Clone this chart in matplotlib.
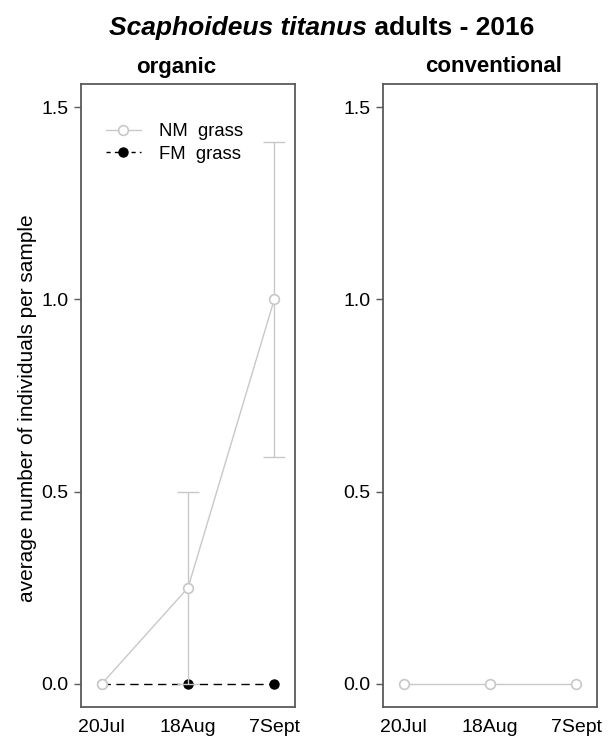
import matplotlib
matplotlib.use("Agg")
import matplotlib.pyplot as plt

plt.rcParams['font.family'] = ['Liberation Sans', 'DejaVu Sans']

dates = ["20Jul", "18Aug", "7Sept"]
x = [1, 2, 3]

# organic
org_nm_mean = [0.0, 0.25, 1.0]
org_nm_err = [0.0, 0.25, 0.41]
org_fm_mean = [0.0, 0.0, 0.0]
# conventional
conv_nm_mean = [0.0, 0.0, 0.0]

yticks = [0.0, 0.5, 1.0, 1.5]
panel_titles = ["organic", "conventional"]

W, H = 614, 738
fig = plt.figure(figsize=(W / 100, H / 100), dpi=100)

grey = "#c8c8c8"
frame = "#5a5a5a"
dash = (0, (6, 4))

def add_panel(left_px):
    ax = fig.add_axes([left_px / W, (H - 707) / H, 214 / W, (707 - 84) / H])
    ax.set_xlim(0.76, 3.24)
    ax.set_ylim(-0.06, 1.56)
    ax.set_yticks(yticks)
    ax.set_yticklabels([f"{v:.1f}" for v in yticks])
    ax.set_xticks(x)
    ax.set_xticklabels(dates)
    ax.tick_params(axis='y', length=5, width=1, color=frame, labelsize=14, pad=4)
    ax.tick_params(axis='x', length=0, labelsize=14, pad=9)
    for s in ax.spines.values():
        s.set_color(frame)
        s.set_linewidth(1.3)
    return ax

ax1 = add_panel(81)
ax2 = add_panel(383)

# organic panel
ax1.plot(x, org_fm_mean, color="black", linestyle=dash, linewidth=1,
         marker="o", markersize=6.5, markerfacecolor="black",
         markeredgecolor="black", zorder=2)
ex = [xi for xi, e in zip(x, org_nm_err) if e > 0]
ey = [m for m, e in zip(org_nm_mean, org_nm_err) if e > 0]
ee = [e for e in org_nm_err if e > 0]
ax1.errorbar(ex, ey, yerr=ee, fmt="none", ecolor=grey, elinewidth=1,
             capsize=8, capthick=1, zorder=2.5)
ax1.plot(x, org_nm_mean, color=grey, linewidth=1, marker="o", markersize=7,
         markerfacecolor="white", markeredgecolor=grey,
         markeredgewidth=1.2, zorder=3)

# legend
h_nm, = ax1.plot([], [], color=grey, linewidth=1, marker="o", markersize=7,
                 markerfacecolor="white", markeredgecolor=grey, markeredgewidth=1.2)
h_fm, = ax1.plot([], [], color="black", linestyle=(0, (3, 3)), linewidth=1,
                 marker="o", markersize=6.5, markerfacecolor="black")
ax1.legend([h_nm, h_fm], ["NM  grass", "FM  grass"], loc="upper left",
           frameon=False, fontsize=13.3, handlelength=1.9, handletextpad=1.0,
           labelspacing=0.3, bbox_to_anchor=(0.08, 0.949), borderaxespad=0.0)

# conventional panel
ax2.plot(x, conv_nm_mean, color=grey, linewidth=1, marker="o", markersize=7,
         markerfacecolor="white", markeredgecolor=grey, markeredgewidth=1.2)

fig.text(28 / W, 1 - 408 / H, "average number of individuals per sample",
         rotation=90, ha="center", va="center", fontsize=15)

fig.text(176 / W, 1 - 67 / H, panel_titles[0], ha="center", va="center",
         fontsize=16, fontweight="bold")
fig.text(494 / W, 1 - 67 / H, panel_titles[1], ha="center", va="center",
         fontsize=16, fontweight="bold")

# main title with italic species name
t1 = fig.text(0, 1 - 28 / H, "Scaphoideus titanus", ha="left", va="center",
              fontsize=19, fontweight="bold", fontstyle="italic")
t2 = fig.text(0, 1 - 28 / H, " adults - 2016", ha="left", va="center",
              fontsize=19, fontweight="bold")
fig.canvas.draw()
r = fig.canvas.get_renderer()
w1 = t1.get_window_extent(r).width
w2 = t2.get_window_extent(r).width
start = 322 - (w1 + w2) / 2
t1.set_x(start / W)
t2.set_x((start + w1) / W)

fig.savefig("out.png", dpi=100)
